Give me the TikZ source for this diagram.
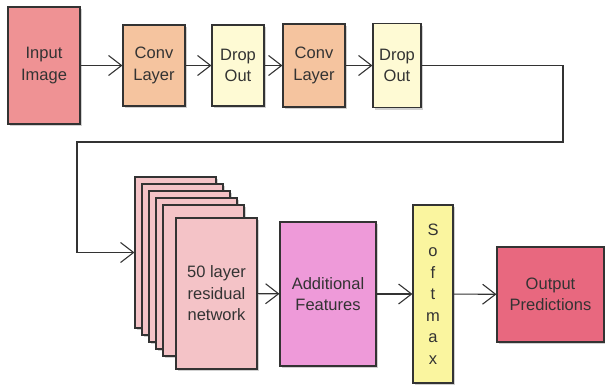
\documentclass[tikz,border=0pt]{standalone}
\usepackage{fontspec}
\setmainfont{Liberation Sans}
\usepackage{tikz}
\usetikzlibrary{arrows.meta, shadows, positioning, calc}
\definecolor{inputpink}{HTML}{EF9294}
\definecolor{convpeach}{HTML}{F5C49F}
\definecolor{droplemon}{HTML}{FEFAD4}
\definecolor{resrose}{HTML}{F4C3C7}
\definecolor{featorchid}{HTML}{EE9AD9}
\definecolor{softyellow}{HTML}{FAF59F}
\definecolor{outred}{HTML}{E8687F}
\definecolor{edgegrey}{HTML}{333333}

\tikzset{
  blk/.style={draw=edgegrey, line width=1.1pt, align=center, inner sep=0pt,
    text=edgegrey, font=\fontsize{16.5}{21.5}\selectfont,
    drop shadow={shadow xshift=1.5pt, shadow yshift=-2pt, opacity=.18, fill=black}},
  arr/.style={draw=edgegrey, line width=1.1pt,
    -{Straight Barb[length=13pt, width=20pt, line width=1.1pt]}}
}

\begin{document}
\begin{tikzpicture}[x=1pt, y=-1pt]
  \useasboundingbox (0,0) rectangle (605,384);
  % first row
  \node[blk, fill=inputpink, minimum width=72pt, minimum height=117pt] (inp) at (44,65.5) {Input\\Image};
  \node[blk, fill=convpeach, minimum width=62pt, minimum height=81pt] (conv1) at (154,65.5) {Conv\\Layer};
  \node[blk, fill=droplemon, minimum width=52pt, minimum height=81pt] (drop1) at (238,65.5) {Drop\\Out};
  \node[blk, fill=convpeach, minimum width=62pt, minimum height=83pt] (conv2) at (314,65.5) {Conv\\Layer};
  \node[blk, fill=droplemon, minimum width=48pt, minimum height=84pt] (drop2) at (397,65.5) {Drop\\Out};
  % residual stack
  \foreach \i in {0,...,4}
    \node[blk, fill=resrose, minimum width=81pt, minimum height=151pt] (res\i) at ({175.5+7*\i},{252.5+7*\i}) {};
  \node[blk, fill=resrose, minimum width=81pt, minimum height=151pt] (res) at (216.5,293.5) {50 layer\\residual\\network};
  % second row
  \node[blk, fill=featorchid, minimum width=96pt, minimum height=144pt] (feat) at (328,294) {Additional\\Features};
  \node[blk, fill=softyellow, minimum width=40pt, minimum height=178pt] (soft) at (433,294) {S\\o\\f\\t\\m\\a\\x};
  \node[blk, fill=outred, minimum width=107pt, minimum height=95pt] (outp) at (550.5,294.5) {Output\\Predictions};
  % connectors
  \coordinate (turnr) at (563,142);
  \coordinate (turnl) at (77,142);
  \draw[arr] (inp) -- (conv1);
  \draw[arr] (conv1) -- (drop1);
  \draw[arr] (drop1) -- (conv2);
  \draw[arr] (conv2) -- (drop2);
  \draw[arr] (drop2.east) -| (turnr) -- (turnl) |- (res0.west);
  \draw[arr] (res) -- (feat);
  \draw[arr] (feat) -- (soft);
  \draw[arr] (soft) -- (outp);
\end{tikzpicture}
\end{document}
